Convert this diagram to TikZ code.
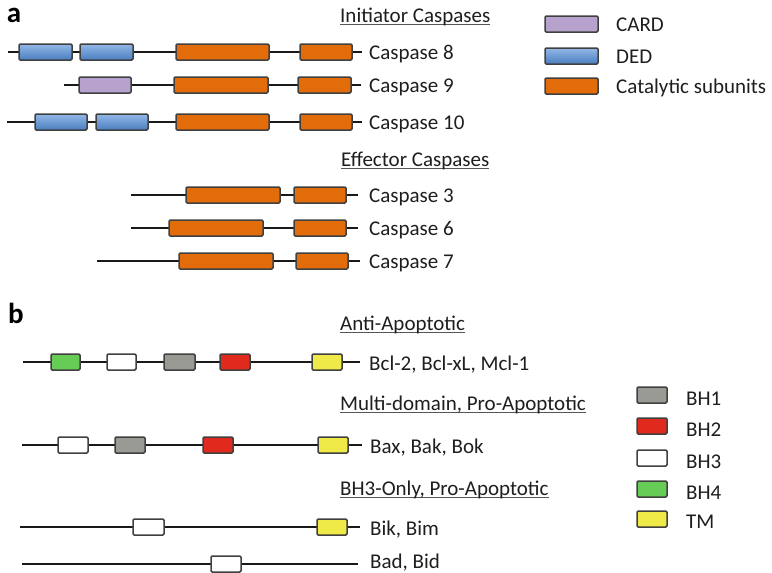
\documentclass[tikz,border=0pt]{standalone}
\usepackage{fontspec}
\setmainfont{Carlito}
\definecolor{card}{HTML}{B7A2CD}
\definecolor{dedtop}{HTML}{92B8E6}
\definecolor{dedbot}{HTML}{4A7EC0}
\definecolor{cat}{HTML}{E36C0A}
\definecolor{bhone}{HTML}{9A9A94}
\definecolor{bhtwo}{HTML}{E02A1E}
\definecolor{bhfour}{HTML}{66CC55}
\definecolor{tm}{HTML}{EFEA48}
\definecolor{ink}{HTML}{1E1E1E}
\newcommand\ulin[1]{\setbox0\hbox{#1}\rlap{\color{ink!75}\rule[-2.8pt]{\wd0}{1.2pt}}\box0}
\newcommand\dom[5]{\node[dombox,#5,minimum width={#3-#2}] (#1) at ({(#2+#3)/2},#4) {};}
\tikzset{
  backbone/.style={line width=2.1pt, draw=black!90},
  dombox/.style={draw=black!75, line width=1.5pt, rounded corners=1.2pt, inner sep=0pt, minimum height=16pt},
  lab/.style={anchor=base west, inner sep=0pt, text=ink, font=\fontsize{21}{25}\selectfont},
  panel/.style={anchor=center, inner sep=0pt, text=black, font=\fontsize{29}{32}\selectfont\bfseries},
  ded/.style={top color=dedtop, bottom color=dedbot},
  cardd/.style={fill=card},
  catd/.style={fill=cat},
  bha/.style={fill=bhone},
  bhb/.style={fill=bhtwo},
  bhc/.style={fill=white},
  bhd/.style={fill=bhfour},
  tmd/.style={fill=tm},
}
\begin{document}
\begin{tikzpicture}[x=1pt,y=-1pt]
\useasboundingbox (0,0) rectangle (772,573);
% panel letters
\node[panel] (pa) at (14,15) {a};
\node[panel] (pb) at (16,313) {b};
% titles
\node[lab] (tinit) at (340,22) {\ulin{Initiator Caspases}};
\node[lab] (teff) at (341,166) {\ulin{Effector Caspases}};
\node[lab] (tanti) at (340,330) {\ulin{Anti-Apoptotic}};
\node[lab] (tmulti) at (340,410) {\ulin{Multi-domain, Pro-Apoptotic}};
\node[lab] (tbh3) at (340,495) {\ulin{BH3-Only, Pro-Apoptotic}};
% Caspase 8
\coordinate (c8a) at (8,52); \coordinate (c8b) at (362,52);
\draw[backbone] (c8a) -- (c8b);
\dom{c8d1}{19}{72}{52}{ded} \dom{c8d2}{80}{133}{52}{ded}
\dom{c8k1}{176}{269}{52}{catd} \dom{c8k2}{300}{352}{52}{catd}
\node[lab] (c8l) at (369,59) {Caspase 8};
% Caspase 9
\coordinate (c9a) at (64,85); \coordinate (c9b) at (361,85);
\draw[backbone] (c9a) -- (c9b);
\dom{c9c}{79}{131}{85}{cardd}
\dom{c9k1}{174}{268}{85}{catd} \dom{c9k2}{298}{351}{85}{catd}
\node[lab] (c9l) at (369,92) {Caspase 9};
% Caspase 10
\coordinate (c10a) at (7,122); \coordinate (c10b) at (362,122);
\draw[backbone] (c10a) -- (c10b);
\dom{c10d1}{35}{87}{122}{ded} \dom{c10d2}{96}{148}{122}{ded}
\dom{c10k1}{176}{269}{122}{catd} \dom{c10k2}{300}{352}{122}{catd}
\node[lab] (c10l) at (369,129) {Caspase 10};
% Caspase 3
\coordinate (c3a) at (131,195); \coordinate (c3b) at (358,195);
\draw[backbone] (c3a) -- (c3b);
\dom{c3k1}{186}{280}{195}{catd} \dom{c3k2}{294}{346}{195}{catd}
\node[lab] (c3l) at (369,202) {Caspase 3};
% Caspase 6
\coordinate (c6a) at (131,228); \coordinate (c6b) at (358,228);
\draw[backbone] (c6a) -- (c6b);
\dom{c6k1}{169}{263}{228}{catd} \dom{c6k2}{294}{346}{228}{catd}
\node[lab] (c6l) at (369,235) {Caspase 6};
% Caspase 7
\coordinate (c7a) at (97,261); \coordinate (c7b) at (360,261);
\draw[backbone] (c7a) -- (c7b);
\dom{c7k1}{179}{273}{261}{catd} \dom{c7k2}{296}{348}{261}{catd}
\node[lab] (c7l) at (369,268) {Caspase 7};
% legend a
\dom{lcard}{545}{598}{24}{cardd}
\node[lab] (lcardt) at (616,31) {CARD};
\dom{lded}{545}{598}{56}{ded}
\node[lab] (ldedt) at (616,63) {DED};
\dom{lcat}{545}{598}{86}{catd}
\node[lab] (lcatt) at (616,93) {Catalytic subunits};
% Bcl-2
\coordinate (b2a) at (23,362); \coordinate (b2b) at (360,362);
\draw[backbone] (b2a) -- (b2b);
\dom{b2g}{51}{80}{362}{bhd} \dom{b2w}{107}{136}{362}{bhc}
\dom{b2y}{164}{195}{362}{bha} \dom{b2r}{220}{250}{362}{bhb}
\dom{b2t}{312}{342}{362}{tmd}
\node[lab] (b2l) at (369,370) {Bcl-2, Bcl-xL, Mcl-1};
% Bax
\coordinate (bxa) at (22,445); \coordinate (bxb) at (362,445);
\draw[backbone] (bxa) -- (bxb);
\dom{bxw}{58}{88}{445}{bhc} \dom{bxy}{115}{145}{445}{bha}
\dom{bxr}{203}{233}{445}{bhb} \dom{bxt}{318}{348}{445}{tmd}
\node[lab] (bxl) at (370,453) {Bax, Bak, Bok};
% Bik
\coordinate (bka) at (20,527); \coordinate (bkb) at (360,527);
\draw[backbone] (bka) -- (bkb);
\dom{bkw}{133}{164}{527}{bhc} \dom{bkt}{317}{347}{527}{tmd}
\node[lab] (bkl) at (370,535) {Bik, Bim};
% Bad
\coordinate (bda) at (22,564); \coordinate (bdb) at (358,564);
\draw[backbone] (bda) -- (bdb);
\dom{bdw}{211}{241}{564}{bhc}
\node[lab] (bdl) at (370,568) {Bad, Bid};
% legend b
\dom{lbh1}{637}{667}{395}{bha}
\node[lab] (lbh1t) at (686,405) {BH1};
\dom{lbh2}{637}{667}{426}{bhb}
\node[lab] (lbh2t) at (686,436) {BH2};
\dom{lbh3}{637}{667}{458}{bhc}
\node[lab] (lbh3t) at (686,468) {BH3};
\dom{lbh4}{637}{667}{489}{bhd}
\node[lab] (lbh4t) at (686,499) {BH4};
\dom{ltm}{637}{667}{519}{tmd}
\node[lab] (ltmt) at (686,528) {TM};
\end{tikzpicture}
\end{document}
